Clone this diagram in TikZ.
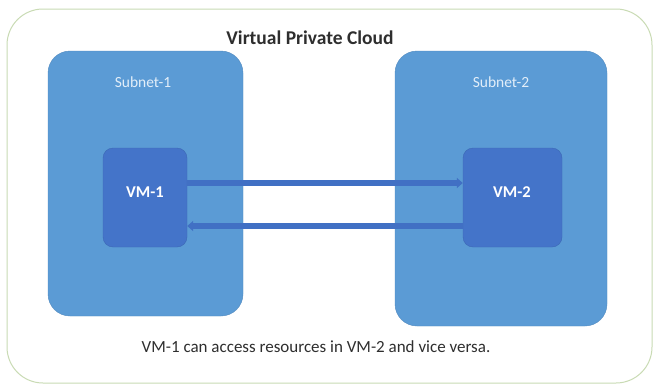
\documentclass[tikz,border=0pt]{standalone}
\usepackage{fontspec}
\setmainfont{Carlito}
\usetikzlibrary{arrows.meta}
\definecolor{subnetblue}{HTML}{5B9BD5}
\definecolor{vmblue}{HTML}{4474C9}
\definecolor{arrowblue}{HTML}{4170C4}
\definecolor{vpcgreen}{HTML}{C9DBB4}
\definecolor{labeltext}{HTML}{E2EEF9}
\definecolor{darktext}{HTML}{2E2E2E}
\tikzset{
  vpcbox/.style={draw=vpcgreen, line width=1pt, rounded corners=36pt, fill=white, inner sep=0pt},
  subnetbox/.style={fill=subnetblue, draw=subnetblue!90!black, line width=0.4pt, rounded corners=22pt, inner sep=0pt},
  vmbox/.style={fill=vmblue, draw=vmblue!90!black, line width=0.4pt, rounded corners=10pt, inner sep=0pt},
  sublabel/.style={text=labeltext, font=\fontsize{15.5}{18}\selectfont},
  vmlabel/.style={text=white, font=\fontsize{16.5}{19}\selectfont\bfseries},
  flow/.style={draw=arrowblue, line width=5.5pt, -{Triangle[width=10pt,length=6pt]}},
  plaintext/.style={text=darktext, font=\fontsize{17}{19}\selectfont},
}
\begin{document}
\begin{tikzpicture}[x=1pt,y=-1pt]
\useasboundingbox (0,0) rectangle (654,386);
\fill[white] (0,0) rectangle (654,386);
\node[vpcbox, minimum width=645pt, minimum height=374pt] (vpc) at (329.5,196) {};
\node[plaintext, font=\fontsize{19.5}{22}\selectfont\bfseries] (title) at (310,38) {Virtual Private Cloud};
\node[subnetbox, minimum width=195pt, minimum height=265pt] (sn1) at (145.5,183.5) {};
\node[subnetbox, minimum width=212pt, minimum height=275pt] (sn2) at (501,188.5) {};
\node[sublabel] (sn1l) at (143,82) {Subnet-1};
\node[sublabel] (sn2l) at (501,82) {Subnet-2};
\node[vmbox, minimum width=84pt, minimum height=99pt] (vm1) at (145,197.5) {};
\node[vmbox, minimum width=99pt, minimum height=99pt] (vm2) at (512.5,197.5) {};
\node[vmlabel] (vm1l) at (145,192) {VM-1};
\node[vmlabel] (vm2l) at (512,192) {VM-2};
\draw[flow] (vm1.east |- 0,183) -- (vm2.west |- 0,183);
\draw[flow] (vm2.west |- 0,226) -- (vm1.east |- 0,226);
\node[plaintext] (note) at (316,347) {VM-1 can access resources in VM-2 and vice versa.};
\end{tikzpicture}
\end{document}
